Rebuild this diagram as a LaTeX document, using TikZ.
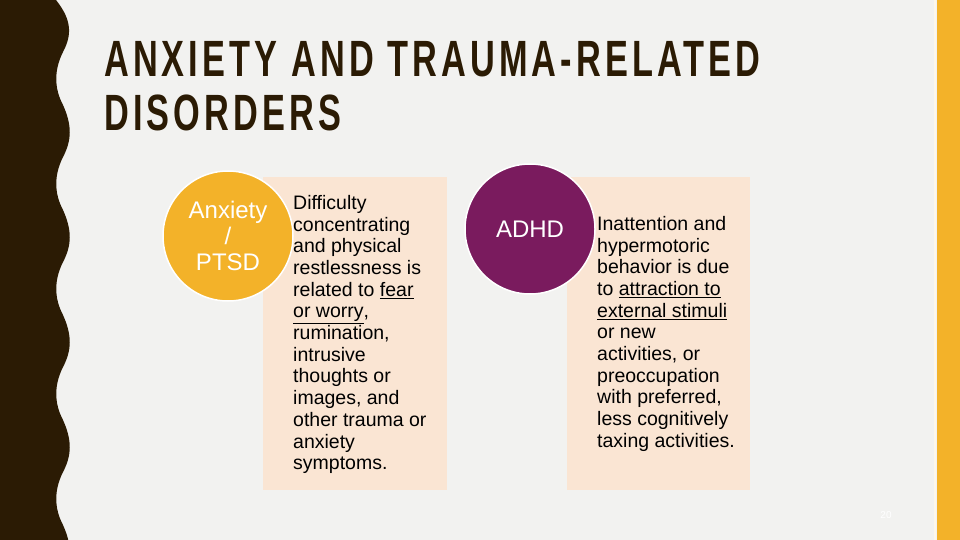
\documentclass[tikz,border=0pt]{standalone}
\usepackage{fontspec}
\setmainfont{Liberation Sans}
\newfontfamily\titlefont[LetterSpace=12]{Liberation Sans}
\definecolor{bg}{HTML}{F2F2F0}
\definecolor{dark}{HTML}{2B1B04}
\definecolor{gold}{HTML}{F3B229}
\definecolor{peach}{HTML}{FAE5D3}
\definecolor{plum}{HTML}{7A1B5E}
\tikzset{
 body/.style={anchor=north west,align=left,font=\fontsize{19.5}{21.7}\selectfont,text=black,inner sep=0pt},
 circ/.style={circle,draw=white,line width=1.5pt,minimum size=130pt,text=white,font=\fontsize{24}{26}\selectfont,align=center},
 panel/.style={fill=peach,draw=none}
}
\begin{document}
\begin{tikzpicture}[x=1pt,y=-1pt]
\fill[bg] (0,0) rectangle (960,540);
\useasboundingbox (0,0) rectangle (960,540);
\fill[dark] (0,0) -- (56,0)
  \foreach \k in {0,...,5} { .. controls (72,{\k*105+20}) and (72,{\k*105+35}) .. (63,{\k*105+52})
   .. controls (54,{\k*105+70}) and (54,{\k*105+88}) .. (63,{\k*105+105}) } -- (0,540) -- cycle;
\fill[gold] (937,0) rectangle (960,540);
\draw[white!90!gold,line width=1.5pt] (935,0) -- (935,540);
\node[anchor=north west,inner sep=0pt,text=dark,xscale=0.673,align=left,font=\titlefont\bfseries\fontsize{51}{54}\selectfont] (title) at (104,41) {ANXIETY AND TRAUMA-RELATED\\DISORDERS};
\fill[panel] (263,177) rectangle (447,490);
\fill[panel] (567,177) rectangle (750,490);
\node[circ,fill=gold] (c1) at (228,236) {Anxiety\\/\\PTSD};
\node[circ,fill=plum] (c2) at (530,229) {ADHD};
\node[body] (t1) at (293,195) {Difficulty\\concentrating\\and physical\\restlessness is\\related to \underline{fear}\\\underline{or worry},\\rumination,\\intrusive\\thoughts or\\images, and\\other trauma or\\anxiety\\symptoms.};
\node[body] (t2) at (597,216) {Inattention and\\hypermotoric\\behavior is due\\to \underline{attraction to}\\\underline{external stimuli}\\or new\\activities, or\\preoccupation\\with preferred,\\less cognitively\\taxing activities.};
\node[text=white,font=\fontsize{10}{12}\selectfont] (pg) at (886,515) {20};
\end{tikzpicture}
\end{document}
